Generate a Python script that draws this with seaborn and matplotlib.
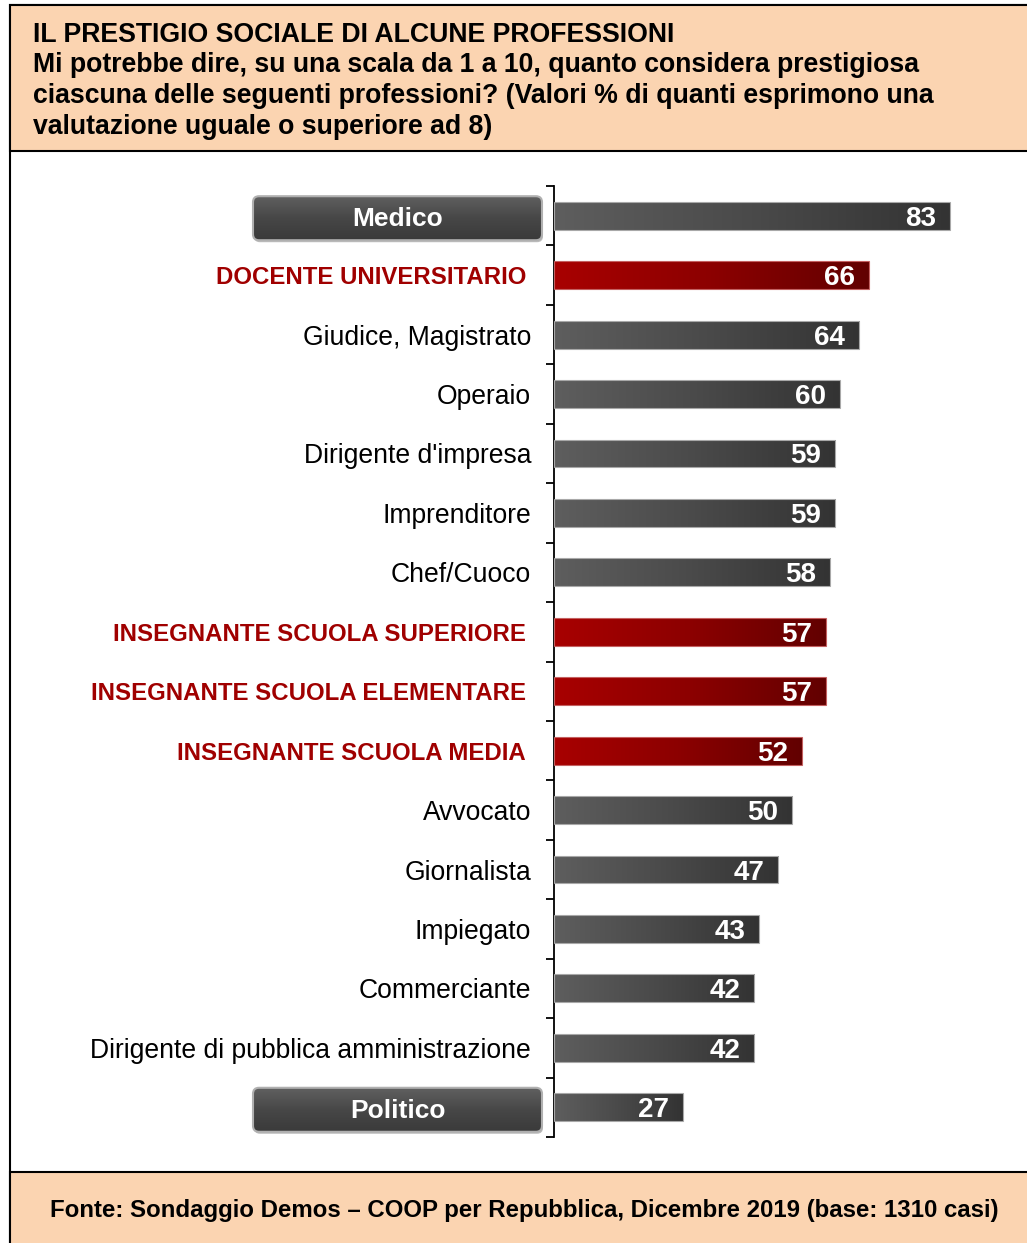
import numpy as np
import pandas as pd
import matplotlib
matplotlib.use("Agg")
import matplotlib.pyplot as plt
import seaborn as sns
from matplotlib.patches import Rectangle, FancyBboxPatch
from matplotlib.colors import LinearSegmentedColormap
from matplotlib.transforms import ScaledTranslation

# ---- data -------------------------------------------------------------
professions = [
    "Medico",
    "DOCENTE UNIVERSITARIO",
    "Giudice, Magistrato",
    "Operaio",
    "Dirigente d'impresa",
    "Imprenditore",
    "Chef/Cuoco",
    "INSEGNANTE SCUOLA SUPERIORE",
    "INSEGNANTE SCUOLA ELEMENTARE",
    "INSEGNANTE SCUOLA MEDIA",
    "Avvocato",
    "Giornalista",
    "Impiegato",
    "Commerciante",
    "Dirigente di pubblica amministrazione",
    "Politico",
]
values = [83, 66, 64, 60, 59, 59, 58, 57, 57, 52, 50, 47, 43, 42, 42, 27]
teaching = [
    "DOCENTE UNIVERSITARIO",
    "INSEGNANTE SCUOLA SUPERIORE",
    "INSEGNANTE SCUOLA ELEMENTARE",
    "INSEGNANTE SCUOLA MEDIA",
]
boxed = ["Medico", "Politico"]

title_lines = [
    "IL PRESTIGIO SOCIALE DI ALCUNE PROFESSIONI",
    "Mi potrebbe dire, su una scala da 1 a 10, quanto considera prestigiosa",
    "ciascuna delle seguenti professioni? (Valori % di quanti esprimono una",
    "valutazione uguale o superiore ad 8)",
]
source = "Fonte: Sondaggio Demos \u2013 COOP per Repubblica, Dicembre 2019 (base: 1310 casi)"

df = pd.DataFrame({
    "professione": professions,
    "valore": values,
    "gruppo": ["docenti" if p in teaching else "altre" for p in professions],
})

# ---- style ------------------------------------------------------------
sns.set_style("white")
plt.rcParams["font.family"] = ["Liberation Sans", "DejaVu Sans"]

PEACH = "#FBD4B1"
DARK_RED = "#A00000"
gray_cmap = LinearSegmentedColormap.from_list("g", ["#5e5e5e", "#4a4a4a", "#333333"])
red_cmap = LinearSegmentedColormap.from_list("r", ["#a80000", "#8c0000", "#620000"])
btn_cmap = LinearSegmentedColormap.from_list("b", ["#606060", "#474747", "#3a3a3a"])

W, H = 1027, 1243
fig = plt.figure(figsize=(W / 100, H / 100), dpi=100)

# background layer in pixel units (frame, header, footer, buttons)
bg = fig.add_axes([0, 0, 1, 1], zorder=0)
bg.set_xlim(0, W)
bg.set_ylim(H, 0)
bg.axis("off")

bg.add_patch(Rectangle((10, 5), W, H, fc="white", ec="black", lw=1.5))
bg.add_patch(Rectangle((10, 5), W, 146, fc=PEACH, ec="black", lw=1.5))
bg.add_patch(Rectangle((10, 1172), W, 100, fc=PEACH, ec="black", lw=1.5))

for line, base in zip(title_lines, [42, 72, 103, 134]):
    bg.text(33, base, line, fontsize=19.2, fontweight="bold", color="black",
            ha="left", va="baseline")

bg.text(524, 1211, source, fontsize=17.3, fontweight="bold", color="black",
        ha="center", va="center")

# ---- bar chart --------------------------------------------------------
ax = fig.add_axes([554 / W, 1 - 1137 / H, 429 / W, (1137 - 186) / H], zorder=2)
ax.patch.set_alpha(0)

sns.barplot(data=df, x="valore", y="professione", hue="gruppo",
            palette={"altre": "#454545", "docenti": "#8c0000"},
            orient="h", width=0.47, legend=False, ax=ax)

grad = np.linspace(0, 1, 256).reshape(1, -1)
for patch in list(ax.patches):
    w = patch.get_width()
    if w <= 0:
        continue
    y0 = patch.get_y()
    h = patch.get_height()
    idx = int(round(y0 + h / 2))
    is_teach = professions[idx] in teaching
    im = ax.imshow(grad, cmap=red_cmap if is_teach else gray_cmap,
                   extent=(0, w, y0, y0 + h), aspect="auto",
                   interpolation="bicubic", zorder=2.5)
    im.set_clip_path(patch)
    patch.set_facecolor("none")
    patch.set_edgecolor("#c46060" if is_teach else "#a8a8a8")
    patch.set_linewidth(0.8)
    patch.set_zorder(3)

for i, v in enumerate(values):
    ax.annotate(str(v), xy=(v, i), xytext=(-10, 0), textcoords="offset points",
                ha="right", va="center_baseline", color="white",
                fontsize=20, fontweight="bold", zorder=4)

ax.set_xlim(0, 90)
ax.set_ylim(15.5, -0.5)
ax.set_xlabel("")
ax.set_ylabel("")
ax.set_xticks([])
for side in ["top", "right", "bottom"]:
    ax.spines[side].set_visible(False)
ax.spines["left"].set_color("black")
ax.spines["left"].set_linewidth(1.3)

ax.set_yticks(range(len(professions)))
ax.set_yticklabels(["" if p in boxed else p for p in professions])
ax.set_yticks(np.arange(-0.5, len(professions), 1.0), minor=True)
ax.tick_params(axis="y", which="major", length=0, pad=16.5)
ax.tick_params(axis="y", which="minor", length=6, width=1.3, color="black",
               direction="out", left=True)

shift = ScaledTranslation(-5 / 100, 0, fig.dpi_scale_trans)
for lab in ax.get_yticklabels():
    txt = lab.get_text()
    if txt in teaching:
        lab.set_color(DARK_RED)
        lab.set_fontweight("bold")
        lab.set_fontsize(17.25)
        lab.set_transform(lab.get_transform() + shift)
    else:
        lab.set_color("black")
        lab.set_fontsize(19.1)

# rounded buttons for the first and last professions
vgrad = np.linspace(0, 1, 256).reshape(-1, 1)
fig.canvas.draw()
to_bg = ax.transData + bg.transData.inverted()
for name in boxed:
    idx = professions.index(name)
    yc = to_bg.transform((0, idx))[1] + 2.5
    bx, bw, bh = 253, 289, 44
    shadow = FancyBboxPatch((bx + 1, yc - bh / 2 + 2), bw, bh,
                            boxstyle="round,pad=0,rounding_size=6",
                            fc="#bdbdbd", ec="none", zorder=1)
    bg.add_patch(shadow)
    btn = FancyBboxPatch((bx, yc - bh / 2), bw, bh,
                         boxstyle="round,pad=0,rounding_size=6",
                         fc="#474747", ec="#b0b0b0", lw=1.5, zorder=3)
    bg.add_patch(btn)
    bim = bg.imshow(vgrad, cmap=btn_cmap, extent=(bx, bx + bw, yc + bh / 2, yc - bh / 2),
                    aspect="auto", zorder=2)
    bim.set_clip_path(btn)
    btn.set_facecolor("none")
    bg.text(bx + bw / 2, yc + 1, name, color="white", fontsize=19, fontweight="bold",
            ha="center", va="center", zorder=4)

bg.set_xlim(0, W)
bg.set_ylim(H, 0)

fig.savefig("out.png", dpi=100)
